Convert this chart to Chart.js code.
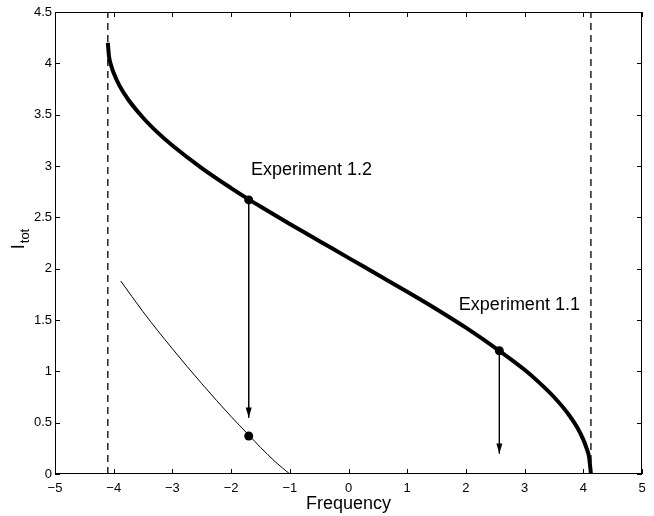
<!DOCTYPE html>
<html>
<head>
<meta charset="utf-8">
<script src="https://cdn.jsdelivr.net/npm/chart.js@4.4.1/dist/chart.umd.min.js"></script>
<style>
  html, body { margin: 0; padding: 0; background: #fff; }
</style>
</head>
<body>
<canvas id="itotChart" width="654" height="516"></canvas>
<script>
// tick values
const xTicks = [-5, -4, -3, -2, -1, 0, 1, 2, 3, 4, 5];
const yTicks = [0, 0.5, 1, 1.5, 2, 2.5, 3, 3.5, 4, 4.5];

// thick upper curve
const mainFreq = [-4.10, -4.08, -4.05, -4.0, -3.9, -3.75, -3.5, -3.25, -3.0, -2.5, -2.0, -1.7, -1.5, -1.0, -0.5, 0,
                  0.5, 1.0, 1.5, 2.0, 2.57, 3.0, 3.25, 3.5, 3.75, 3.9, 4.0, 4.05, 4.1, 4.13];
const mainItot = [4.20, 4.07, 3.99, 3.905, 3.78, 3.645, 3.47, 3.325, 3.20, 2.98, 2.785, 2.675, 2.605, 2.435, 2.27, 2.105,
                  1.94, 1.775, 1.605, 1.425, 1.20, 1.015, 0.89, 0.75, 0.58, 0.45, 0.335, 0.26, 0.16, 0.0];

// thin lower curve
const lowFreq = [-3.88, -3.5, -3.0, -2.5, -2.0, -1.7, -1.5, -1.25, -1.0];
const lowItot = [1.88, 1.58, 1.22, 0.88, 0.56, 0.38, 0.26, 0.12, 0.0];

// dashed bounds
const boundFreq = [-4.1, 4.13];

// experiments: start point on thick curve, arrow tip
const expLabels = ['Experiment 1.2', 'Experiment 1.1'];
const expFreq = [-1.7, 2.57];
const expStart = [2.67, 1.2];
const expEnd = [0.55, 0.2];
const lowMarkFreq = [-1.7];
const lowMarkItot = [0.37];

const pts = (xs, ys) => xs.map((v, i) => ({ x: v, y: ys[i] }));
const FONT = '"Liberation Sans", Arial, Helvetica, sans-serif';

const datasets = [
  { data: pts(mainFreq, mainItot), borderColor: '#000', borderWidth: 4, showLine: true,
    pointRadius: 0, cubicInterpolationMode: 'monotone' },
  { data: pts(lowFreq, lowItot), borderColor: '#000', borderWidth: 1, showLine: true,
    pointRadius: 0, cubicInterpolationMode: 'monotone' }
];
boundFreq.forEach(f => {
  datasets.push({ data: [{ x: f, y: 0 }, { x: f, y: 4.5 }], borderColor: '#000', borderWidth: 1.3,
    borderDash: [7, 5], showLine: true, pointRadius: 0 });
});
expFreq.forEach((f, i) => {
  datasets.push({ data: [{ x: f, y: expStart[i] }, { x: f, y: expEnd[i] }], borderColor: '#000',
    borderWidth: 1, showLine: true, pointRadius: 0 });
});
datasets.push({
  data: pts(expFreq, expStart).concat(pts(lowMarkFreq, lowMarkItot)),
  showLine: false, pointRadius: 4.5, pointBackgroundColor: '#000', pointBorderColor: '#000', pointBorderWidth: 0
});

// anchors for the experiment labels (left / middle of text)
const labelPos = [{ x: -1.66, y: 2.96 }, { x: 1.88, y: 1.645 }];

const frame = {
  id: 'frame',
  afterDatasetsDraw(chart) {
    const { ctx, chartArea: a, scales: { x, y } } = chart;
    ctx.save();
    ctx.fillStyle = '#000';
    expFreq.forEach((f, i) => {
      const px = x.getPixelForValue(f), py = y.getPixelForValue(expEnd[i]);
      ctx.beginPath();
      ctx.moveTo(px, py);
      ctx.lineTo(px - 3, py - 10);
      ctx.lineTo(px + 3, py - 10);
      ctx.closePath();
      ctx.fill();
    });
    ctx.strokeStyle = '#000';
    ctx.lineWidth = 1;
    ctx.strokeRect(a.left + 0.5, a.top + 0.5, a.width - 1, a.height - 1);
    ctx.beginPath();
    xTicks.forEach(v => {
      const px = Math.round(x.getPixelForValue(v)) + 0.5;
      ctx.moveTo(px, a.bottom); ctx.lineTo(px, a.bottom - 5);
      ctx.moveTo(px, a.top); ctx.lineTo(px, a.top + 5);
    });
    yTicks.forEach(v => {
      const py = Math.round(y.getPixelForValue(v)) + 0.5;
      ctx.moveTo(a.left, py); ctx.lineTo(a.left + 5, py);
      ctx.moveTo(a.right, py); ctx.lineTo(a.right - 5, py);
    });
    ctx.stroke();
    ctx.restore();
  },
  afterDraw(chart) {
    const { ctx, chartArea: a, scales: { x, y } } = chart;
    ctx.save();
    ctx.fillStyle = '#000';
    ctx.font = '18px ' + FONT;
    ctx.textAlign = 'left';
    ctx.textBaseline = 'middle';
    expLabels.forEach((t, i) => {
      ctx.fillText(t, x.getPixelForValue(labelPos[i].x), y.getPixelForValue(labelPos[i].y));
    });
    // x title
    ctx.font = '18px ' + FONT;
    ctx.textAlign = 'center';
    ctx.fillText('Frequency', (a.left + a.right) / 2, 504);
    // y title I_tot
    ctx.translate(19, (a.top + a.bottom) / 2 - 4);
    ctx.rotate(-Math.PI / 2);
    ctx.textAlign = 'left';
    ctx.font = '18px ' + FONT;
    const wI = ctx.measureText('I').width;
    ctx.font = '13px ' + FONT;
    const wSub = ctx.measureText('tot').width;
    const x0 = -(wI + 1 + wSub) / 2;
    ctx.font = '18px ' + FONT;
    ctx.fillText('I', x0, 0);
    ctx.font = '13px ' + FONT;
    ctx.fillText('tot', x0 + wI + 1, 6);
    ctx.restore();
  }
};

new Chart(document.getElementById('itotChart'), {
  type: 'scatter',
  data: { datasets },
  plugins: [frame],
  options: {
    responsive: false,
    animation: false,
    layout: { padding: { top: 12, right: 12, left: 0, bottom: 0 } },
    plugins: { legend: { display: false }, tooltip: { enabled: false } },
    scales: {
      x: {
        type: 'linear', min: -5, max: 5,
        grid: { display: false, tickLength: 0 }, border: { display: false },
        afterBuildTicks: s => { s.ticks = xTicks.map(v => ({ value: v })); },
        afterFit: s => { s.height = 42; },
        ticks: {
          padding: 7, color: '#000', font: { size: 13, family: FONT },
          callback: v => String(v).replace('-', '\u2212')
        }
      },
      y: {
        type: 'linear', min: 0, max: 4.5,
        grid: { display: false, tickLength: 0 }, border: { display: false },
        afterBuildTicks: s => { s.ticks = yTicks.map(v => ({ value: v })); },
        afterFit: s => { s.width = 55; },
        ticks: { padding: 3, color: '#000', font: { size: 13, family: FONT }, callback: v => String(v) }
      }
    }
  }
});
</script>
</body>
</html>
